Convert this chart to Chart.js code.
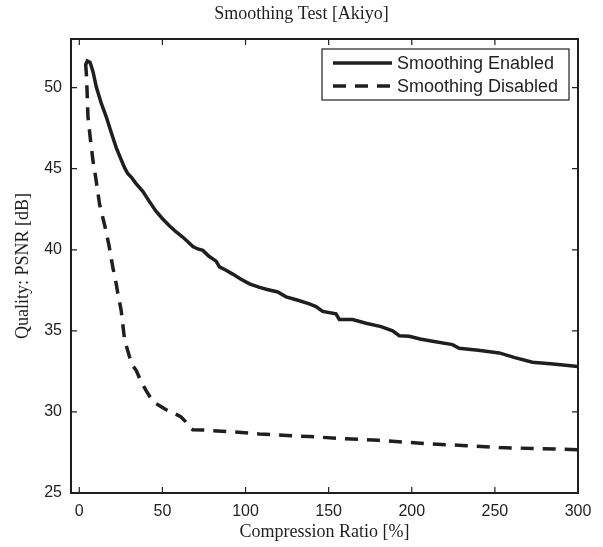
<!DOCTYPE html>
<html>
<head>
<meta charset="utf-8">
<script src="https://cdn.jsdelivr.net/npm/chart.js@4/dist/chart.umd.min.js"></script>
<style>
  html, body { margin: 0; padding: 0; background: #ffffff; }
  canvas { display: block; }
</style>
</head>
<body>
<canvas id="c" width="603" height="547"></canvas>
<script>
// ---- Data ----
const enabledRatio = [4, 4.8, 6.5, 8.2, 10.2, 13, 16.2, 19, 22.2, 25, 27.5, 29.2, 31.5, 34, 38.2, 42, 46, 50.2, 54, 58.3, 62, 65.3, 68.3, 71.3, 74.3, 78, 82.3, 84.3, 88, 92.3, 97, 102.4, 108, 113, 119.4, 124.4, 131, 138.4, 142.4, 146.4, 154.4, 156.4, 164.4, 172.5, 181.5, 188.5, 192.5, 198.5, 205, 212.5, 224.5, 228.5, 240, 252.6, 262, 272.6, 285, 300];
const enabledPSNR  = [51.45, 51.65, 51.55, 51.0, 50.05, 49.1, 48.2, 47.3, 46.3, 45.6, 45.0, 44.7, 44.45, 44.1, 43.6, 43.0, 42.4, 41.9, 41.5, 41.1, 40.8, 40.5, 40.2, 40.05, 39.96, 39.6, 39.3, 38.95, 38.75, 38.5, 38.2, 37.9, 37.7, 37.55, 37.4, 37.1, 36.9, 36.67, 36.5, 36.2, 36.05, 35.7, 35.7, 35.47, 35.26, 35.0, 34.7, 34.67, 34.5, 34.36, 34.15, 33.93, 33.8, 33.64, 33.35, 33.06, 32.95, 32.8];

const disabledRatio = [3.8, 4.4, 5.2, 6.7, 8.2, 9.8, 12.2, 15.3, 17.8, 20.2, 22.2, 23.2, 25.2, 26.6, 27.2, 28.5, 30.2, 32.5, 34.3, 37, 40.3, 43, 46.3, 52, 58.3, 61, 63.5, 66.3, 68.3, 75, 88.3, 108.3, 125, 138.4, 160, 180, 198.5, 212.5, 232.6, 252.6, 272.6, 300];
const disabledPSNR  = [51.5, 50.6, 48.2, 46.8, 45.5, 44.5, 42.8, 41.5, 40.3, 38.9, 37.9, 37.3, 36.25, 35.0, 34.5, 34.0, 33.4, 32.8, 32.55, 31.9, 31.3, 30.85, 30.5, 30.15, 29.85, 29.7, 29.45, 29.05, 28.9, 28.88, 28.8, 28.64, 28.55, 28.48, 28.35, 28.25, 28.12, 28.02, 27.92, 27.8, 27.75, 27.67];

const seriesLabels = ['Smoothing Enabled', 'Smoothing Disabled'];
const xTickValues = [0, 50, 100, 150, 200, 250, 300];
const yTickValues = [25, 30, 35, 40, 45, 50];
const chartTitle = 'Smoothing Test [Akiyo]';
const xTitle = 'Compression Ratio [%]';
const yTitle = 'Quality: PSNR [dB]';

// ---- Build ----
const toPoints = (xs, ys) => xs.map((x, i) => ({ x: x, y: ys[i] }));
const INK = '#1f1f1f';
const SERIF = '"Liberation Serif", "Times New Roman", serif';
const SANS = '"Liberation Sans", Arial, sans-serif';

const frameAndTicks = {
  id: 'frameAndTicks',
  afterDatasetsDraw(chart) {
    const { ctx, chartArea: a, scales: { x, y } } = chart;
    const len = 6;
    ctx.save();
    ctx.strokeStyle = INK;
    ctx.lineWidth = 1.2;
    ctx.beginPath();
    x.ticks.forEach(t => {
      const px = x.getPixelForValue(t.value);
      ctx.moveTo(px, a.bottom); ctx.lineTo(px, a.bottom - len);
      ctx.moveTo(px, a.top); ctx.lineTo(px, a.top + len);
    });
    y.ticks.forEach(t => {
      const py = y.getPixelForValue(t.value);
      ctx.moveTo(a.left, py); ctx.lineTo(a.left + len, py);
      ctx.moveTo(a.right, py); ctx.lineTo(a.right - len, py);
    });
    ctx.stroke();
    ctx.lineWidth = 2;
    ctx.strokeRect(a.left, a.top, a.right - a.left, a.bottom - a.top);
    ctx.restore();
  }
};

const boxLegend = {
  id: 'boxLegend',
  afterDatasetsDraw(chart) {
    const { ctx, chartArea: a } = chart;
    const right = a.right - 9, top = a.top + 10;
    const w = 247, h = 51;
    const left = right - w;
    ctx.save();
    ctx.fillStyle = '#ffffff';
    ctx.fillRect(left, top, w, h);
    ctx.strokeStyle = INK;
    ctx.lineWidth = 1.2;
    ctx.strokeRect(left, top, w, h);
    ctx.font = '18px ' + SANS;
    ctx.textBaseline = 'middle';
    ctx.textAlign = 'left';
    chart.data.datasets.forEach((ds, i) => {
      const yy = top + 14 + i * 23;
      ctx.beginPath();
      ctx.setLineDash(ds.borderDash || []);
      ctx.lineWidth = ds.borderWidth;
      ctx.strokeStyle = ds.borderColor;
      ctx.moveTo(left + 11, yy);
      ctx.lineTo(left + 70, yy);
      ctx.stroke();
      ctx.setLineDash([]);
      ctx.fillStyle = INK;
      ctx.fillText(ds.label, left + 75, yy + 1);
    });
    ctx.restore();
  }
};

new Chart(document.getElementById('c'), {
  type: 'line',
  data: {
    datasets: [
      {
        label: seriesLabels[0],
        data: toPoints(enabledRatio, enabledPSNR),
        borderColor: INK,
        borderWidth: 3.5,
        pointRadius: 0,
        tension: 0,
        fill: false
      },
      {
        label: seriesLabels[1],
        data: toPoints(disabledRatio, disabledPSNR),
        borderColor: INK,
        borderWidth: 3.5,
        borderDash: [13, 9],
        pointRadius: 0,
        tension: 0,
        fill: false
      }
    ]
  },
  options: {
    responsive: false,
    animation: false,
    layout: { padding: { left: 0, right: 0, top: 0, bottom: 0 } },
    plugins: {
      legend: { display: false },
      tooltip: { enabled: false },
      title: {
        display: true,
        text: chartTitle,
        color: INK,
        font: { family: SERIF, size: 18, weight: 'normal', lineHeight: 1.2 },
        padding: { top: 3, bottom: 14.4 }
      }
    },
    scales: {
      x: {
        type: 'linear',
        min: -5,
        max: 300,
        afterBuildTicks: s => { s.ticks = xTickValues.map(v => ({ value: v })); },
        afterFit: s => { s.height = 54; },
        grid: { display: false, drawTicks: false },
        border: { display: false },
        ticks: {
          color: INK,
          padding: 9,
          maxRotation: 0,
          font: { family: SANS, size: 16 }
        },
        title: {
          display: true,
          text: xTitle,
          color: INK,
          font: { family: SERIF, size: 18, lineHeight: 1.2 },
          padding: { top: 0, bottom: 4 }
        }
      },
      y: {
        type: 'linear',
        min: 25,
        max: 53,
        afterBuildTicks: s => { s.ticks = yTickValues.map(v => ({ value: v })); },
        afterFit: s => { s.width = 71; },
        grid: { display: false, drawTicks: false },
        border: { display: false },
        ticks: {
          color: INK,
          padding: 9,
          font: { family: SANS, size: 16 }
        },
        title: {
          display: true,
          text: yTitle,
          color: INK,
          font: { family: SERIF, size: 18, lineHeight: 1.2 },
          padding: { top: 12, bottom: 0 }
        }
      },
      rightGap: {
        type: 'linear',
        position: 'right',
        display: true,
        afterFit: s => { s.width = 25; },
        grid: { display: false, drawTicks: false },
        border: { display: false },
        ticks: { display: false }
      }
    }
  },
  plugins: [frameAndTicks, boxLegend]
});
</script>
</body>
</html>
